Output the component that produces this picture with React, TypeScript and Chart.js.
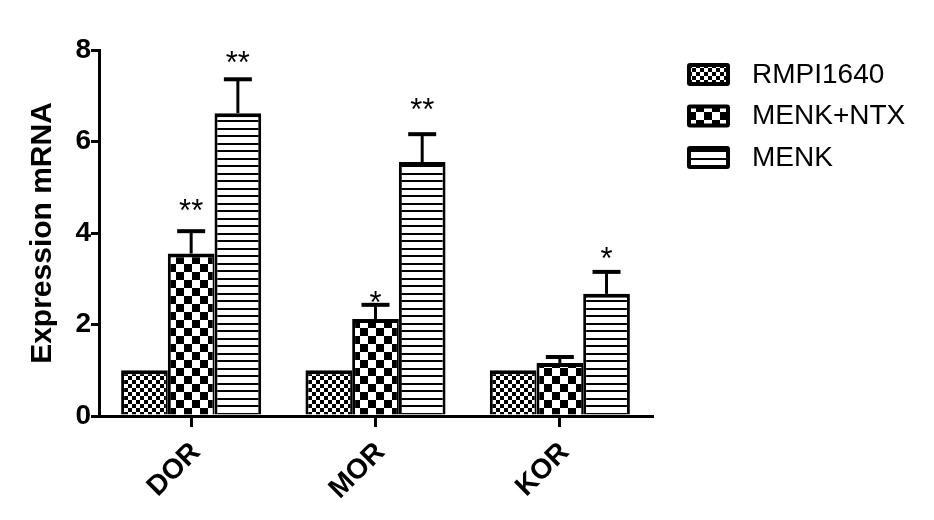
import React, { useEffect, useRef } from 'react';
import { Chart, registerables } from 'chart.js';

Chart.register(...registerables);

const categories = ['DOR', 'MOR', 'KOR'];
const seriesNames = ['RMPI1640', 'MENK+NTX', 'MENK'];
const rmpiValues = [1.0, 1.0, 1.0];
const menkNtxValues = [3.55, 2.12, 1.16];
const menkValues = [6.62, 5.55, 2.67];
const rmpiErrors = [0, 0, 0];
const menkNtxErrors = [0.49, 0.31, 0.13];
const menkErrors = [0.74, 0.61, 0.48];
const rmpiMarks = ['', '', ''];
const menkNtxMarks = ['**', '*', ''];
const menkMarks = ['**', '**', '*'];
const rmpiMarkAt = [0, 0, 0];
const menkNtxMarkAt = [4.61, 2.6, 0];
const menkMarkAt = [7.85, 6.82, 3.56];
const yTicks = [0, 2, 4, 6, 8];
const yTitle = 'Expression mRNA';

const FONT = "'Liberation Sans', Arial, Helvetica, sans-serif";

const valueSets = [rmpiValues, menkNtxValues, menkValues];
const errorSets = [rmpiErrors, menkNtxErrors, menkErrors];
const markSets = [rmpiMarks, menkNtxMarks, menkMarks];
const markAtSets = [rmpiMarkAt, menkNtxMarkAt, menkMarkAt];

function makePattern(kind: string): CanvasPattern | string {
  const c = document.createElement('canvas');
  const x = c.getContext('2d');
  if (!x) return '#888';
  if (kind === 'fine') {
    c.width = 8; c.height = 8;
    x.fillStyle = '#fff'; x.fillRect(0, 0, 8, 8);
    x.fillStyle = '#000';
    x.fillRect(0, 0, 4, 4); x.fillRect(4, 4, 4, 4);
  } else if (kind === 'coarse') {
    c.width = 16; c.height = 16;
    x.fillStyle = '#fff'; x.fillRect(0, 0, 16, 16);
    x.fillStyle = '#000';
    x.fillRect(0, 0, 8, 8); x.fillRect(8, 8, 8, 8);
  } else {
    c.width = 4; c.height = 15;
    x.fillStyle = '#fff'; x.fillRect(0, 0, 4, 15);
    x.fillStyle = '#000';
    x.fillRect(0, 0, 4, 2); x.fillRect(0, 8, 4, 2);
  }
  return x.createPattern(c, 'repeat') || '#888';
}

const errorPlugin = {
  id: 'errorMarks',
  afterDatasetsDraw(chart: any) {
    const ctx = chart.ctx;
    const y = chart.scales.y;
    ctx.save();
    chart.data.datasets.forEach((_ds: any, di: number) => {
      const meta = chart.getDatasetMeta(di);
      meta.data.forEach((bar: any, i: number) => {
        const v = valueSets[di][i];
        const e = errorSets[di][i];
        if (e > 0) {
          const yb = y.getPixelForValue(v);
          const yt = y.getPixelForValue(v + e);
          ctx.strokeStyle = '#000';
          ctx.lineWidth = 3;
          ctx.beginPath();
          ctx.moveTo(bar.x, yb);
          ctx.lineTo(bar.x, yt);
          ctx.stroke();
          ctx.lineWidth = 4;
          ctx.beginPath();
          ctx.moveTo(bar.x - 14, yt);
          ctx.lineTo(bar.x + 14, yt);
          ctx.stroke();
        }
        const m = markSets[di][i];
        if (m) {
          ctx.fillStyle = '#000';
          ctx.font = `31px ${FONT}`;
          ctx.textAlign = 'center';
          ctx.textBaseline = 'alphabetic';
          ctx.fillText(m, bar.x, y.getPixelForValue(markAtSets[di][i]) + 16);
        }
      });
    });
    ctx.restore();
  },
};

const legendPlugin = {
  id: 'sideLegend',
  afterDraw(chart: any) {
    const { ctx, chartArea } = chart;
    const x0 = chartArea.right + 35;
    const y0 = chartArea.top + 13;
    ctx.save();
    chart.data.datasets.forEach((ds: any, i: number) => {
      const top = y0 + i * 41.5;
      ctx.fillStyle = '#000';
      ctx.beginPath();
      if (ctx.roundRect) ctx.roundRect(x0, top, 43, 23, 3); else ctx.rect(x0, top, 43, 23);
      ctx.fill();
      ctx.fillStyle = ds.backgroundColor;
      ctx.fillRect(x0 + 4, top + 4, 35, 15);
      ctx.fillStyle = '#000';
      ctx.font = `28px ${FONT}`;
      ctx.textAlign = 'left';
      ctx.textBaseline = 'middle';
      ctx.fillText(ds.label, x0 + 65, top + 12);
    });
    ctx.restore();
  },
};

export default function App() {
  const ref = useRef<HTMLCanvasElement>(null);
  useEffect(() => {
    document.body.style.margin = '0';
    const canvas = ref.current;
    if (!canvas) return;
    const ctx = canvas.getContext('2d');
    if (!ctx) return;
    const patterns = [makePattern('fine'), makePattern('coarse'), makePattern('lines')];
    const borders = [
      { top: 4, left: 3, right: 2, bottom: 0 },
      { top: 4, left: 3, right: 2, bottom: 0 },
      { top: 4, left: 3, right: 3, bottom: 0 },
    ];
    const chart = new Chart(ctx, {
      type: 'bar',
      data: {
        labels: categories,
        datasets: valueSets.map((vals, i) => ({
          label: seriesNames[i],
          data: vals,
          backgroundColor: patterns[i] as any,
          borderColor: '#000',
          borderWidth: borders[i] as any,
          borderSkipped: 'start' as any,
          barPercentage: 1.0,
          categoryPercentage: 0.76,
        })),
      },
      options: {
        animation: false,
        responsive: false,
        maintainAspectRatio: false,
        devicePixelRatio: 1,
        layout: { padding: { top: 50, right: 282, left: 0, bottom: 0 } },
        plugins: {
          legend: { display: false },
          tooltip: { enabled: false },
        },
        scales: {
          x: {
            type: 'category',
            offset: true,
            z: 1,
            grid: {
              display: true,
              drawOnChartArea: false,
              offset: false,
              color: '#000',
              lineWidth: 3,
              tickLength: 11,
            },
            border: { display: true, color: '#000', width: 3 },
            ticks: {
              color: '#000',
              font: { family: FONT, size: 28, weight: 'bold' },
              minRotation: 45,
              maxRotation: 45,
              autoSkip: false,
              padding: 9,
              labelOffset: 5,
            },
            afterFit: (s: any) => { s.height = 104; },
          },
          y: {
            min: 0,
            max: 8,
            z: 1,
            afterBuildTicks: (s: any) => { s.ticks = yTicks.map((v) => ({ value: v })); },
            grid: {
              display: true,
              drawOnChartArea: false,
              color: '#000',
              lineWidth: 3,
              tickLength: 8,
            },
            border: { display: true, color: '#000', width: 3 },
            ticks: {
              color: '#000',
              font: { family: FONT, size: 28, weight: 'bold' },
              padding: 0,
            },
            title: {
              display: true,
              text: yTitle,
              color: '#000',
              font: { family: FONT, size: 30, weight: 'bold' },
              padding: { top: 25, bottom: 0 },
            },
            afterFit: (s: any) => { s.width = 99; },
          },
        },
      },
      plugins: [errorPlugin, legendPlugin],
    });
    return () => chart.destroy();
  }, []);
  return (
    <div style={{ width: 934, height: 520, position: 'relative', background: '#fff' }}>
      <canvas ref={ref} width={934} height={520} style={{ width: 934, height: 520, display: 'block' }} />
    </div>
  );
}
